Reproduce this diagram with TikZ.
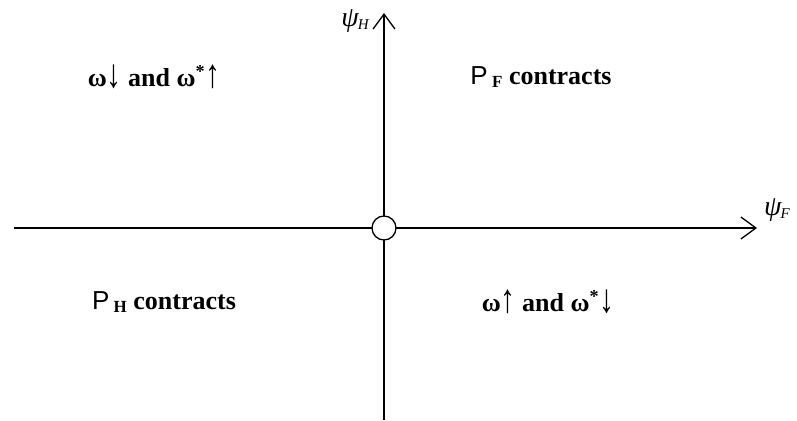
\documentclass[tikz,border=0pt]{standalone}
\usepackage{fontspec}
\usepackage{graphicx}
\setmainfont{Liberation Serif}
\newfontfamily\sansf{Liberation Sans}
\usetikzlibrary{arrows.meta}

\tikzset{
  region/.style={font=\fontsize{26}{30}\selectfont\bfseries,inner sep=0pt},
  axislabel/.style={font=\fontsize{28}{30}\selectfont\itshape,inner sep=0pt},
}
\newcommand{\Pq}[1]{{\sansf\mdseries P}\,\raisebox{-0.3ex}{\fontsize{17}{18}\selectfont #1}}
\newcommand{\arw}[1]{\raisebox{-0.12ex}{\scalebox{1.15}[1.55]{\mdseries #1}}}
\newcommand{\psilab}[1]{ψ\kern-1pt\raisebox{-0.2ex}{\fontsize{15}{16}\selectfont #1}}

\begin{document}
\begin{tikzpicture}[x=1pt,y=-1pt,>={Straight Barb[length=15pt,width=22pt]},line width=1.3pt]
\useasboundingbox (0,0) rectangle (797,420);
% axes
\coordinate (xl) at (14,228);
\coordinate (xr) at (757,228);
\coordinate (yb) at (384,420);
\coordinate (yt) at (384,13);
\draw[->] (xl) -- (xr);
\draw[->] (yb) -- (yt);
\node[circle,draw,fill=white,minimum size=24pt,inner sep=0pt] (o) at (384,228) {};
\node[axislabel] (psiH) at (355,21) {\psilab{H}};
\node[axislabel] (psiF) at (777,210) {\psilab{F}};
% quadrants
\node[region] (q2) at (154,77) {ω\arw{↓} and ω\textsuperscript{*}\arw{↑}};
\node[region] (q1) at (541,77) {\Pq{F} contracts};
\node[region] (q3) at (164,302) {\Pq{H} contracts};
\node[region] (q4) at (548,302) {ω\arw{↑} and ω\textsuperscript{*}\arw{↓}};
\end{tikzpicture}
\end{document}
